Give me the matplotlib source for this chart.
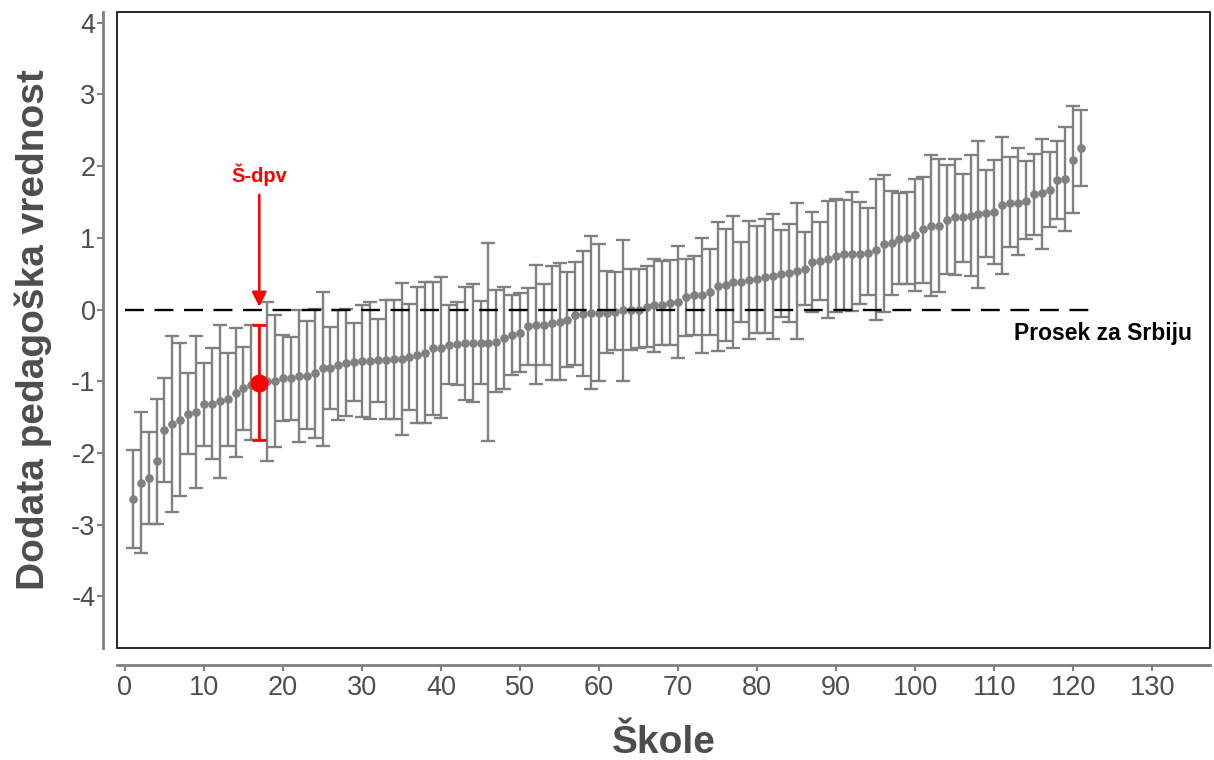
import numpy as np
import matplotlib
matplotlib.use("Agg")
import matplotlib.pyplot as plt
from matplotlib.patches import Rectangle

plt.rcParams["font.family"] = ["Liberation Sans", "DejaVu Sans"]
plt.rcParams["axes.unicode_minus"] = False

# --- data: estimate, upper and lower bound per school (sorted) ---
estimate = [
    -2.64, -2.42, -2.35, -2.11, -1.68, -1.60, -1.54, -1.45, -1.43, -1.32,
    -1.32, -1.28, -1.25, -1.16, -1.10, -1.05, -1.02, -1.00, -0.99, -0.95,
    -0.95, -0.92, -0.92, -0.88, -0.82, -0.81, -0.77, -0.74, -0.73, -0.72,
    -0.72, -0.71, -0.70, -0.69, -0.69, -0.66, -0.64, -0.61, -0.54, -0.53,
    -0.49, -0.48, -0.47, -0.47, -0.47, -0.46, -0.45, -0.40, -0.35, -0.33,
    -0.23, -0.21, -0.21, -0.19, -0.17, -0.14, -0.07, -0.06, -0.05, -0.05,
    -0.05, -0.04, -0.01, 0.00, 0.00, 0.04, 0.06, 0.07, 0.09, 0.10,
    0.17, 0.20, 0.20, 0.25, 0.33, 0.34, 0.38, 0.38, 0.41, 0.42,
    0.46, 0.47, 0.50, 0.51, 0.54, 0.57, 0.67, 0.68, 0.71, 0.75,
    0.77, 0.78, 0.78, 0.79, 0.83, 0.92, 0.93, 0.99, 1.00, 1.04,
    1.12, 1.17, 1.17, 1.25, 1.29, 1.29, 1.30, 1.33, 1.35, 1.36,
    1.46, 1.49, 1.49, 1.51, 1.61, 1.62, 1.67, 1.81, 1.82, 2.09,
    2.26,
]
upper = [
    -1.96, -1.43, -1.71, -1.25, -0.95, -0.37, -0.47, -0.88, -0.37, -0.74,
    -0.54, -0.22, -0.60, -0.26, -0.52, -0.22, -0.22, 0.11, -0.07, -0.35,
    -0.38, 0.00, -0.16, 0.01, 0.24, -0.24, 0.00, 0.01, -0.19, 0.06,
    0.11, -0.13, 0.14, 0.14, 0.37, 0.08, 0.32, 0.39, 0.39, 0.46,
    0.07, 0.10, 0.31, 0.36, 0.12, 0.93, 0.27, 0.32, 0.20, 0.23,
    0.30, 0.62, 0.35, 0.61, 0.65, 0.52, 0.66, 0.82, 1.02, 0.92,
    0.54, 0.53, 0.97, 0.57, 0.57, 0.61, 0.71, 0.68, 0.69, 0.88,
    0.71, 0.75, 1.00, 0.85, 1.22, 1.13, 1.31, 0.94, 1.24, 1.17,
    1.26, 1.33, 1.11, 1.19, 1.49, 1.08, 1.36, 1.22, 1.51, 1.54,
    1.53, 1.64, 1.50, 1.41, 1.82, 1.88, 1.66, 1.63, 1.64, 1.82,
    1.85, 2.16, 2.10, 2.02, 2.10, 1.89, 2.15, 2.35, 1.95, 2.09,
    2.41, 2.13, 2.25, 2.07, 2.17, 2.38, 2.20, 2.35, 2.54, 2.84,
    2.79,
]
lower = [
    -3.33, -3.40, -2.99, -2.99, -2.41, -2.82, -2.60, -2.01, -2.49, -1.90,
    -2.08, -2.35, -1.90, -2.05, -1.68, -1.82, -1.82, -2.11, -1.92, -1.56,
    -1.54, -1.85, -1.67, -1.79, -1.90, -1.39, -1.54, -1.49, -1.28, -1.50,
    -1.53, -1.29, -1.53, -1.53, -1.75, -1.40, -1.58, -1.58, -1.47, -1.51,
    -1.04, -1.05, -1.26, -1.29, -1.04, -1.83, -1.15, -1.11, -0.91, -0.87,
    -0.78, -1.04, -0.77, -0.98, -0.98, -0.80, -0.77, -0.93, -1.11, -0.99,
    -0.61, -0.57, -0.99, -0.57, -0.54, -0.52, -0.59, -0.50, -0.50, -0.68,
    -0.37, -0.36, -0.60, -0.35, -0.58, -0.44, -0.54, -0.18, -0.41, -0.33,
    -0.33, -0.41, -0.10, -0.18, -0.41, 0.06, -0.03, 0.14, -0.12, -0.03,
    0.00, -0.02, 0.08, 0.20, -0.15, -0.03, 0.21, 0.36, 0.36, 0.26,
    0.37, 0.19, 0.25, 0.49, 0.48, 0.67, 0.47, 0.30, 0.74, 0.64,
    0.50, 0.87, 0.76, 0.98, 1.04, 0.85, 1.15, 1.26, 1.09, 1.34,
    1.72,
]
highlight = 17          # school marked as "Š-dpv"
serbia_mean = 0.0
xticks = list(range(0, 140, 10))
yticks = [-4, -3, -2, -1, 0, 1, 2, 3, 4]

est = np.array(estimate)
up = np.array(upper)
lo = np.array(lower)
schools = np.arange(1, len(est) + 1)

GREY = "#808080"
TXT = "#4D4D4D"

fig = plt.figure(figsize=(12.14, 7.6), dpi=100)
ax = fig.add_axes([0.0964, 0.1474, 0.9003, 0.8368])

ax.errorbar(schools, est, yerr=[est - lo, up - est], fmt="o", color=GREY,
            ecolor=GREY, elinewidth=1.7, capsize=5, capthick=1.7,
            markersize=5.2, zorder=2)

# highlighted school
i = highlight - 1
ax.errorbar([highlight], [est[i]], yerr=[[est[i] - lo[i]], [up[i] - est[i]]],
            fmt="o", color="red", ecolor="red", elinewidth=1.9, capsize=5,
            capthick=1.9, markersize=12, zorder=4)

# Serbia mean
ax.plot([0, 122], [serbia_mean, serbia_mean], color="black", lw=1.7,
        dashes=(8, 4.5), zorder=3)
ax.text(123.8, -0.33, "Prosek za Srbiju", fontsize=16.5, fontweight="bold",
        ha="center", va="center", color="black")

# annotation arrow
ax.annotate("", xy=(highlight, serbia_mean), xytext=(highlight, 1.64),
            arrowprops=dict(arrowstyle="-|>", color="red", lw=1.8,
                            mutation_scale=22), zorder=5)
ax.text(highlight, 1.88, "Š-dpv", color="red", fontsize=14.5,
        fontweight="bold", ha="center", va="center")

ax.set_xlim(-1, 137.3)
ax.set_ylim(-4.72, 4.15)
ax.set_xticks(xticks)
ax.set_yticks(yticks)
ax.set_yticklabels([str(v) for v in yticks])

# ggplot-like: detached grey axis lines + black panel border
for s in ["top", "right"]:
    ax.spines[s].set_visible(False)
ax.spines["left"].set_position(("outward", 10))
ax.spines["bottom"].set_position(("outward", 12))
for s in ["left", "bottom"]:
    ax.spines[s].set_color(GREY)
    ax.spines[s].set_linewidth(2)
ax.add_patch(Rectangle((0, 0), 1, 1, transform=ax.transAxes, fill=False,
                       edgecolor="black", lw=1.2, clip_on=False, zorder=6))

ax.tick_params(axis="both", colors=GREY, labelcolor=TXT, labelsize=19.5,
               length=4, width=1.5)
ax.tick_params(axis="y", pad=1.5)
ax.set_xlabel("Škole", fontsize=28, fontweight="bold", color=TXT, labelpad=17)
ax.set_ylabel("Dodata pedagoška vrednost", fontsize=28, fontweight="bold",
              color=TXT, labelpad=14)

fig.savefig("out.png", dpi=100)
